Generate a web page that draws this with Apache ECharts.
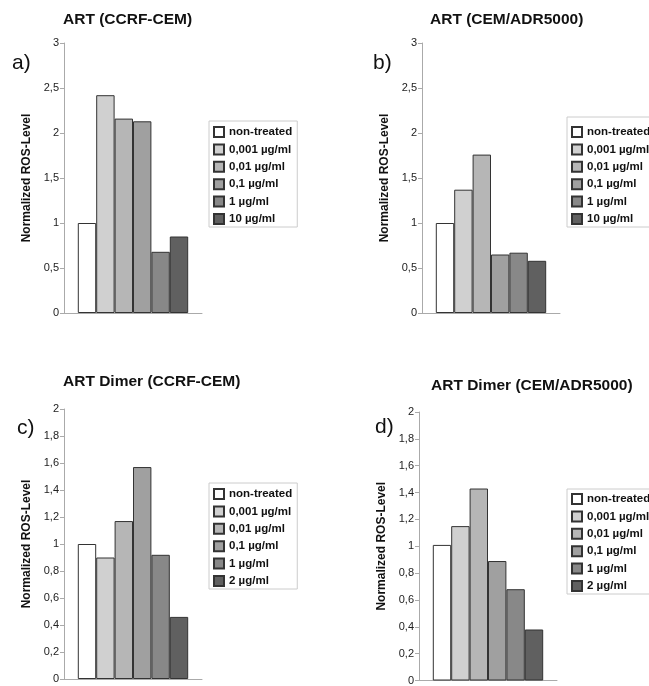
<!DOCTYPE html>
<html>
<head>
<meta charset="utf-8">
<script src="https://cdn.jsdelivr.net/npm/echarts@6/dist/echarts.min.js"></script>
<style>
  html, body { margin: 0; padding: 0; background: #fff; }
  #chart { width: 649px; height: 686px; }
</style>
</head>
<body>
<div id="chart"></div>
<script>
    // panel titles and letters
    var titles = ['ART (CCRF-CEM)', 'ART (CEM/ADR5000)', 'ART Dimer (CCRF-CEM)', 'ART Dimer (CEM/ADR5000)'];
    var letters = ['a)', 'b)', 'c)', 'd)'];

    // legend names (top row uses 10 µg/ml, bottom row 2 µg/ml)
    var namesArt = ['non-treated', '0,001 µg/ml', '0,01 µg/ml', '0,1 µg/ml', '1 µg/ml', '10 µg/ml'];
    var namesDimer = ['non-treated', '0,001 µg/ml', '0,01 µg/ml', '0,1 µg/ml', '1 µg/ml', '2 µg/ml'];
    var barColors = ['#ffffff', '#d0d0d0', '#b6b6b6', '#a0a0a0', '#888888', '#606060'];

    // values
    var artCcrf = [1.0, 2.42, 2.16, 2.13, 0.68, 0.85];
    var artAdr = [1.0, 1.37, 1.76, 0.65, 0.67, 0.58];
    var dimerCcrf = [1.0, 0.90, 1.17, 1.57, 0.92, 0.46];
    var dimerAdr = [1.01, 1.15, 1.43, 0.89, 0.68, 0.38];

    // y axis ranges
    var yMax = [3, 3, 2, 2];
    var yStep = [0.5, 0.5, 0.2, 0.2];

    var panels = [
        { data: artCcrf, names: namesArt, grid: { left: 64, top: 43 }, title: [63, 12], letter: [12, 53], legend: [209, 121, 5] },
        { data: artAdr, names: namesArt, grid: { left: 422, top: 43 }, title: [430, 12], letter: [373, 53], legend: [567, 117, 9] },
        { data: dimerCcrf, names: namesDimer, grid: { left: 64, top: 409 }, title: [63, 374], letter: [17, 418], legend: [209, 483, 5] },
        { data: dimerAdr, names: namesDimer, grid: { left: 419, top: 412 }, title: [431, 378], letter: [375, 417], legend: [567, 489, 4] }
    ];

    var font = 'Liberation Sans, Arial, sans-serif';

    var option = {
        animation: false,
        backgroundColor: '#fff',
        title: [], grid: [], xAxis: [], yAxis: [], legend: [], series: [], graphic: []
    };

    panels.forEach(function (p, i) {
        option.title.push({
            text: titles[i], left: p.title[0], top: p.title[1], padding: 0,
            textStyle: { fontFamily: font, fontSize: 15.5, fontWeight: 'bold', color: '#111' }
        });
        option.graphic.push({
            type: 'text', left: p.letter[0], top: p.letter[1],
            style: { text: letters[i], fontFamily: font, fontSize: 21, fill: '#111' }
        });
        option.grid.push({ left: p.grid.left, top: p.grid.top, width: 138, height: 270 });
        option.xAxis.push({
            type: 'category', gridIndex: i, data: [''],
            axisLine: { lineStyle: { color: '#aaaaaa', width: 1 } },
            axisTick: { show: false }, axisLabel: { show: false }
        });
        option.yAxis.push({
            type: 'value', gridIndex: i, min: 0, max: yMax[i], interval: yStep[i],
            name: 'Normalized ROS-Level', nameLocation: 'middle', nameGap: 31,
            nameTextStyle: { fontFamily: font, fontSize: 12, fontWeight: 'bold', color: '#111' },
            axisLine: { show: true, lineStyle: { color: '#aaaaaa', width: 1 } },
            axisTick: { show: true, length: 4, lineStyle: { color: '#aaaaaa' } },
            splitLine: { show: false },
            axisLabel: {
                margin: 5, fontFamily: font, fontSize: 11, color: '#222',
                formatter: function (v) { return String(Math.round(v * 10) / 10).replace('.', ','); }
            }
        });
        option.legend.push({
            data: p.names, orient: 'vertical', left: p.legend[0], top: p.legend[1],
            padding: [p.legend[2], 5, 2, 4], itemGap: 5.4, itemWidth: 10, itemHeight: 10, itemTextGap: 3,
            icon: 'rect', backgroundColor: '#fff', borderColor: '#cccccc', borderWidth: 1,
            textStyle: { fontFamily: font, fontSize: 11.5, fontWeight: 'bold', color: '#111', lineHeight: 12 }
        });
        p.data.forEach(function (v, k) {
            option.series.push({
                type: 'bar', name: p.names[k], xAxisIndex: i, yAxisIndex: i,
                data: [v], barGap: '0%', barCategoryGap: '20%',
                itemStyle: { color: barColors[k], borderColor: '#333333', borderWidth: 1 }
            });
        });
    });

    var myChart = echarts.init(document.getElementById('chart'));
    myChart.setOption(option);
</script>
</body>
</html>
